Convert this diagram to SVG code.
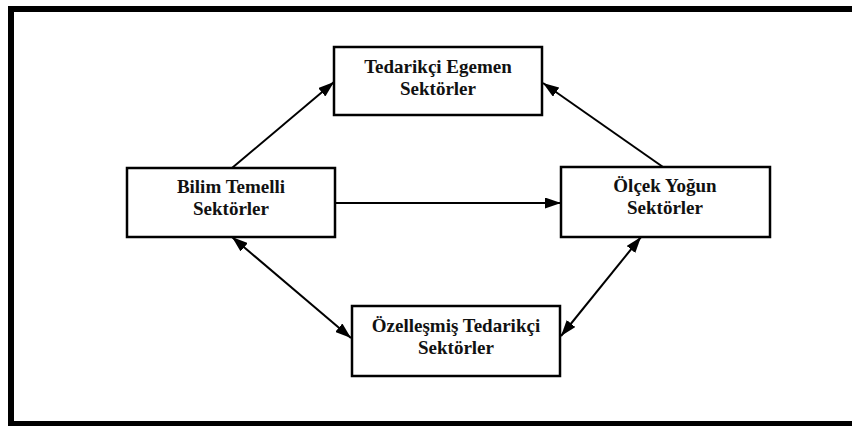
<svg xmlns="http://www.w3.org/2000/svg" width="852" height="426" viewBox="0 0 852 426">
  <defs>
    <marker id="arrow" viewBox="0 0 16 11" refX="16" refY="5.5" markerWidth="16" markerHeight="11" markerUnits="userSpaceOnUse" orient="auto-start-reverse">
      <path d="M0,0 L16,5.5 L0,11 Z" fill="#000"/>
    </marker>
    <style>
      .box { fill: #fff; stroke: #000; stroke-width: 2.5; }
      .label { font-family: "Liberation Serif", "Times New Roman", serif; font-weight: bold; font-size: 19px; fill: #111; text-anchor: middle; }
      .conn { stroke: #000; stroke-width: 2; fill: none; }
    </style>
  </defs>
  <rect width="852" height="426" fill="#fff"/>
  <!-- outer frame -->
  <rect x="11" y="9" width="860" height="415" fill="none" stroke="#000" stroke-width="6"/>

  <g id="connectors">
    <line class="conn" x1="232" y1="168" x2="334" y2="82" marker-end="url(#arrow)"/>
    <line class="conn" x1="663" y1="167" x2="543" y2="83" marker-end="url(#arrow)"/>
    <line class="conn" x1="335" y1="203" x2="561" y2="203" marker-end="url(#arrow)"/>
    <line class="conn" x1="232" y1="237" x2="351" y2="338" marker-start="url(#arrow)" marker-end="url(#arrow)"/>
    <line class="conn" x1="641" y1="237" x2="561" y2="336" marker-start="url(#arrow)" marker-end="url(#arrow)"/>
  </g>

  <g id="tedarikci-egemen">
    <rect class="box" x="334" y="47" width="208" height="68"/>
    <text class="label" x="438" y="73">Tedarikçi Egemen</text>
    <text class="label" x="438" y="95">Sektörler</text>
  </g>

  <g id="bilim-temelli">
    <rect class="box" x="127" y="168" width="208" height="69"/>
    <text class="label" x="231" y="193">Bilim Temelli</text>
    <text class="label" x="231" y="215">Sektörler</text>
  </g>

  <g id="olcek-yogun">
    <rect class="box" x="561" y="167" width="209" height="70"/>
    <text class="label" x="665" y="192">Ölçek Yoğun</text>
    <text class="label" x="665" y="214">Sektörler</text>
  </g>

  <g id="ozellesmis-tedarikci">
    <rect class="box" x="352" y="306" width="208" height="70"/>
    <text class="label" x="456" y="332">Özelleşmiş Tedarikçi</text>
    <text class="label" x="456" y="354">Sektörler</text>
  </g>
</svg>
